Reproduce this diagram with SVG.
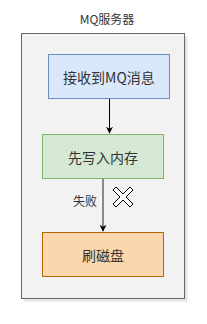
<svg xmlns="http://www.w3.org/2000/svg" width="207" height="324" viewBox="0 0 207 324">
<defs>
<style>
text{font-family:"Noto Sans CJK SC","Liberation Sans",sans-serif;fill:#333;text-anchor:middle;dominant-baseline:central}
.box{stroke-width:1}
</style>
<marker id="arr" viewBox="0 0 10 10" refX="9" refY="5" markerWidth="7" markerHeight="7" markerUnits="userSpaceOnUse" orient="auto"><path d="M0,0L10,5L0,10L3,5z" fill="#000"/></marker>
</defs>
<g id="container">
<rect x="24.5" y="36.5" width="163" height="265" fill="#c9ccd6" opacity="0.5"/>
<rect x="21.5" y="33.5" width="163" height="265" fill="#f2f2f2" stroke="#666"/>
<text x="107" y="18" font-size="12">MQ服务器</text>
</g>
<g id="connectors">
<line x1="109.5" y1="98" x2="109.5" y2="133" stroke="#000" marker-end="url(#arr)"/>
<line x1="103" y1="178" x2="103" y2="231" stroke="#666" stroke-width="1.5" marker-end="url(#arr)"/>
<text x="85" y="200" font-size="12">失败</text>
</g>
<g id="receive">
<rect class="box" x="48.5" y="54.5" width="121" height="44" fill="#dae8fc" stroke="#6c8ebf"/>
<text x="109" y="76.5" font-size="14">接收到MQ消息</text>
</g>
<g id="memory">
<rect class="box" x="42.5" y="134.5" width="121" height="44" fill="#d5e8d4" stroke="#82b366"/>
<text x="103" y="156.5" font-size="14">先写入内存</text>
</g>
<g id="disk">
<rect class="box" x="42.5" y="232.5" width="121" height="44" fill="#fad7ac" stroke="#b46504"/>
<text x="103" y="254.5" font-size="14">刷磁盘</text>
</g>
<g id="xmark">
<polygon points="116,187 123,194 130,187 133,190 126,197 133,204 130,207 123,200 116,207 113,204 120,197 113,190" fill="#fff" stroke="#000" stroke-linejoin="round"/>
</g>
</svg>
